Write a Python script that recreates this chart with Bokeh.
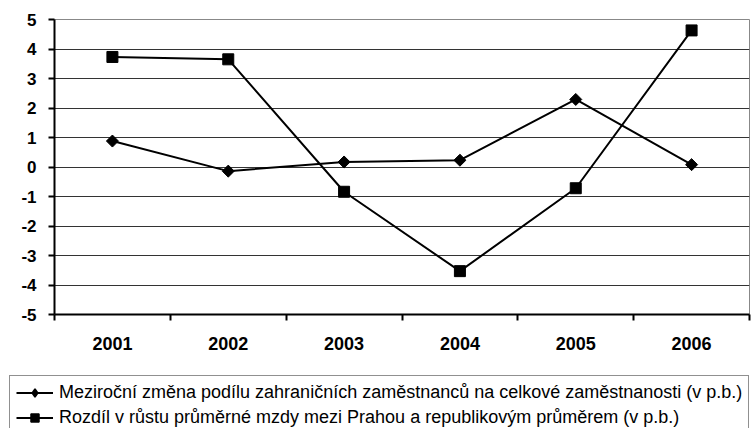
import numpy as np
from bokeh.plotting import figure
from bokeh.models import FixedTicker, Range1d, Legend, LegendItem
from bokeh.embed import file_html
from bokeh.resources import INLINE

years = [2001, 2002, 2003, 2004, 2005, 2006]
zmena_podilu = [0.88, -0.14, 0.17, 0.23, 2.29, 0.08]
rozdil_mzdy = [3.73, 3.65, -0.84, -3.53, -0.72, 4.63]
y_ticks = [-5, -4, -3, -2, -1, 0, 1, 2, 3, 4, 5]
label_1 = "Meziroční změna podílu zahraničních zaměstnanců na celkové zaměstnanosti (v p.b.)"
label_2 = "Rozdíl v růstu průměrné mzdy mezi Prahou a republikovým průměrem (v p.b.)"

FONT = "Liberation Sans"

p = figure(width=752, height=360, output_backend="svg", toolbar_location=None,
           x_range=Range1d(years[0] - 0.5, years[-1] + 0.5),
           y_range=Range1d(-5, 5),
           min_border_left=54, min_border_right=3, min_border_top=19, min_border_bottom=46)
p.background_fill_color = "white"
p.border_fill_color = "white"
p.outline_line_color = "#888888"
p.outline_line_width = 1

# grid
p.xgrid.grid_line_color = None
p.ygrid.grid_line_color = "#333333"
p.ygrid.grid_line_width = 1

# x axis
minor = [y - 0.5 for y in years] + [years[-1] + 0.5]
p.xaxis.ticker = FixedTicker(ticks=years, minor_ticks=minor)
p.xaxis.axis_line_width = 2
p.xaxis.axis_line_color = "black"
p.xaxis.major_tick_line_color = None
p.xaxis.major_tick_out = 6
p.xaxis.major_tick_in = 0
p.xaxis.minor_tick_line_color = "black"
p.xaxis.minor_tick_line_width = 2
p.xaxis.minor_tick_out = 6
p.xaxis.minor_tick_in = 0
p.xaxis.major_label_text_font = FONT
p.xaxis.major_label_text_font_style = "bold"
p.xaxis.major_label_text_font_size = "18px"
p.xaxis.major_label_text_color = "black"
p.xaxis.major_label_standoff = 16

# y axis
p.yaxis.ticker = FixedTicker(ticks=y_ticks)
p.yaxis.major_label_overrides = {t: str(t) for t in y_ticks}
p.yaxis.axis_line_width = 2
p.yaxis.axis_line_color = "black"
p.yaxis.major_tick_line_color = "black"
p.yaxis.major_tick_line_width = 2
p.yaxis.major_tick_out = 6
p.yaxis.major_tick_in = 0
p.yaxis.minor_tick_line_color = None
p.yaxis.major_label_text_font = FONT
p.yaxis.major_label_text_font_style = "bold"
p.yaxis.major_label_text_font_size = "17px"
p.yaxis.major_label_text_color = "black"
p.yaxis.major_label_standoff = 12

# series
p.line(years, zmena_podilu, line_color="black", line_width=2)
p.scatter(years, zmena_podilu, marker="square", angle=np.pi / 4, size=8.5,
          fill_color="black", line_color="black")
p.line(years, rozdil_mzdy, line_color="black", line_width=2)
p.scatter(years, rozdil_mzdy, marker="square", size=11,
          fill_color="black", line_color="black")

# legend strip below the chart (separate root, only the legend is visible:
# its renderers hold the same series but lie outside this strip's ranges)
q = figure(width=752, height=68, output_backend="svg", toolbar_location=None,
           x_axis_type=None, y_axis_type=None,
           x_range=Range1d(0, 1), y_range=Range1d(100, 101),
           min_border=0)
q.outline_line_color = None
q.grid.grid_line_color = None
q.background_fill_color = "white"
q.border_fill_color = "white"
k1 = q.line(years, zmena_podilu, line_color="black", line_width=2)
k1m = q.scatter(years, zmena_podilu, marker="diamond", size=11, line_width=1.5,
                fill_color="black", line_color="black")
k2 = q.line(years, rozdil_mzdy, line_color="black", line_width=2)
k2m = q.scatter(years, rozdil_mzdy, marker="square", size=10,
                fill_color="black", line_color="black")

legend = Legend(items=[LegendItem(label=label_1, renderers=[k1, k1m]),
                       LegendItem(label=label_2, renderers=[k2, k2m])],
                location=(9, -7))
legend.label_text_font = FONT
legend.label_text_font_size = "18px"
legend.label_text_color = "black"
legend.border_line_color = "#222222"
legend.border_line_width = 1
legend.background_fill_color = "white"
legend.background_fill_alpha = 1
legend.padding = 6
legend.margin = 0
legend.spacing = 4
legend.glyph_width = 37
legend.glyph_height = 21
legend.label_height = 21
legend.label_standoff = 6
q.add_layout(legend, "center")

open("out.html", "w").write(file_html([p, q], INLINE))
